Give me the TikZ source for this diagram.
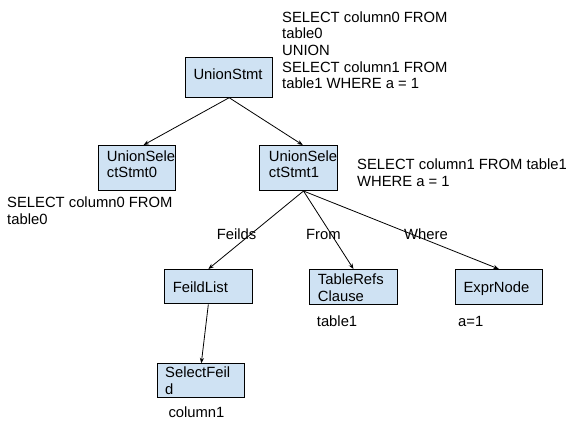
\documentclass[tikz,border=0pt]{standalone}
\usepackage{fontspec}
\setmainfont{Liberation Sans}
\usetikzlibrary{arrows.meta}
\definecolor{boxfill}{HTML}{CFE2F3}
\tikzset{
  box/.style={draw=black, line width=1pt, fill=boxfill, rectangle, inner sep=0pt, anchor=north west},
  txt/.style={inner sep=0pt, align=left, font=\fontsize{14.8}{16.7}\selectfont, text=black},
  conn/.style={draw=black, line width=0.8pt, -{Stealth[length=5.5pt,width=4.2pt]}}
}
\begin{document}
\begin{tikzpicture}[x=1pt,y=-1pt]
\useasboundingbox[fill=white] (0,0) rectangle (587,426);
% boxes
\node[box, minimum width=87.3pt, minimum height=40pt] (us) at (185,56.7) {};
\node[box, minimum width=77.3pt, minimum height=45pt] (s0) at (97.7,145) {};
\node[box, minimum width=78pt, minimum height=45pt] (s1) at (259.3,145) {};
\node[box, minimum width=87.7pt, minimum height=34.3pt] (fl) at (164,269) {};
\node[box, minimum width=88pt, minimum height=34.5pt] (tr) at (309,269) {};
\node[box, minimum width=86.7pt, minimum height=34.5pt] (ex) at (455,269) {};
\node[box, minimum width=87pt, minimum height=34pt] (sf) at (157.3,363.3) {};
% box texts
\node[txt, anchor=base west] (ust) at (193.3,79) {UnionStmt};
\node[txt, anchor=north west] (s0t) at (106.7,150.2) {UnionSele\\ctStmt0};
\node[txt, anchor=north west] (s1t) at (268.7,150.2) {UnionSele\\ctStmt1};
\node[txt, anchor=base west] (flt) at (172.7,292.7) {FeildList};
\node[txt, anchor=north west] (trt) at (317.7,273.8) {TableRefs\\Clause};
\node[txt, anchor=base west] (ext) at (463.3,292.7) {ExprNode};
\node[txt, anchor=north west] (sft) at (165,366.5) {SelectFeil\\d};
% free texts
\node[txt, anchor=north west] (q0) at (282,11.2) {SELECT column0 FROM\\table0\\UNION\\SELECT column1 FROM\\table1 WHERE a = 1};
\node[txt, anchor=north west] (q1) at (357,158.5) {SELECT column1 FROM table1\\WHERE a = 1};
\node[txt, anchor=north west] (q2) at (7,196.8) {SELECT column0 FROM\\table0};
\node[txt, anchor=base west] (lf) at (216.7,239) {Feilds};
\node[txt, anchor=base west] (lfr) at (306,239) {From};
\node[txt, anchor=base west] (lw) at (404,239) {Where};
\node[txt, anchor=base west] (t1) at (316.7,326.7) {table1};
\node[txt, anchor=base west] (a1) at (458,326.7) {a=1};
\node[txt, anchor=base west] (c1) at (168.3,417.3) {column1};
% connectors
\draw[conn] (us.south) -- ([xshift=6.7pt]s0.north);
\draw[conn] (us.south) -- ([xshift=4pt]s1.north);
\draw[conn] ([xshift=4.7pt]s1.south) -- (fl.north);
\draw[conn] ([xshift=4.7pt]s1.south) -- (tr.north);
\draw[conn] ([xshift=4.7pt]s1.south) -- (ex.north);
\draw[conn] (fl.south) -- (sf.north);
\end{tikzpicture}
\end{document}
